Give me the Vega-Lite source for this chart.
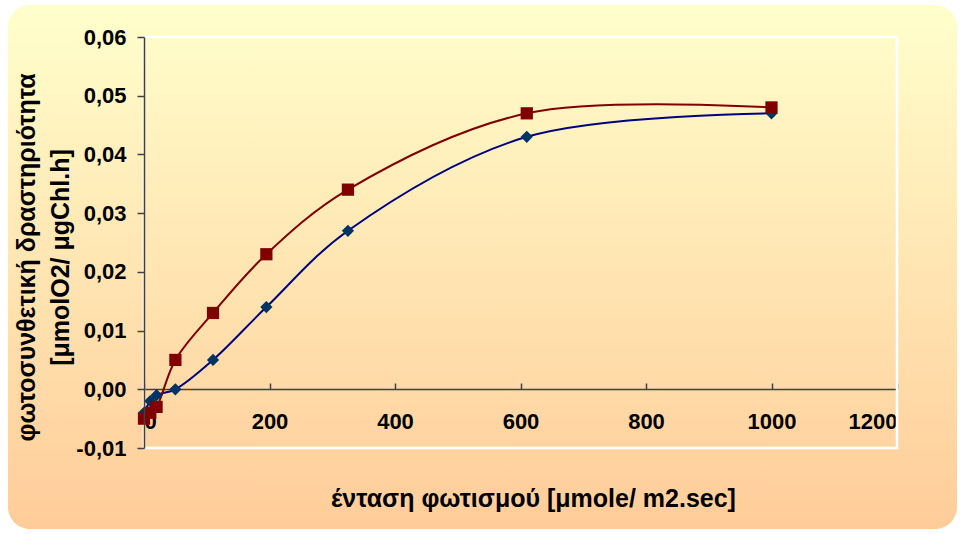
{
  "$schema": "https://vega.github.io/schema/vega-lite/v6.json",
  "width": 949,
  "height": 524,
  "autosize": "none",
  "padding": {"left": 8, "top": 5, "right": 3, "bottom": 5},
  "background": "#ffffff",
  "view": {
    "stroke": null,
    "cornerRadius": 22,
    "fill": {
      "gradient": "linear",
      "x1": 0, "y1": 0, "x2": 0, "y2": 1,
      "stops": [
        {"offset": 0, "color": "#FFFFCC"},
        {"offset": 1, "color": "#FFCC99"}
      ]
    }
  },
  "config": {
    "font": "Liberation Sans",
    "axis": {
      "labelFont": "Liberation Sans",
      "labelFontSize": 22,
      "labelFontWeight": "bold",
      "labelColor": "#000000",
      "titleFont": "Liberation Sans",
      "titleFontWeight": "bold",
      "titleColor": "#000000",
      "domainColor": "#404040",
      "tickColor": "#404040",
      "domainWidth": 1.5,
      "tickWidth": 1.5,
      "grid": false
    }
  },
  "datasets": {
    "photosynthesis": [
      {"series": "Σειρά1", "light": 0, "rate": -0.004},
      {"series": "Σειρά1", "light": 10, "rate": -0.002},
      {"series": "Σειρά1", "light": 20, "rate": -0.001},
      {"series": "Σειρά1", "light": 50, "rate": 0.0},
      {"series": "Σειρά1", "light": 110, "rate": 0.005},
      {"series": "Σειρά1", "light": 195, "rate": 0.014},
      {"series": "Σειρά1", "light": 325, "rate": 0.027},
      {"series": "Σειρά1", "light": 610, "rate": 0.043},
      {"series": "Σειρά1", "light": 1000, "rate": 0.047},
      {"series": "Σειρά2", "light": 0, "rate": -0.005},
      {"series": "Σειρά2", "light": 10, "rate": -0.004},
      {"series": "Σειρά2", "light": 20, "rate": -0.003},
      {"series": "Σειρά2", "light": 50, "rate": 0.005},
      {"series": "Σειρά2", "light": 110, "rate": 0.013},
      {"series": "Σειρά2", "light": 195, "rate": 0.023},
      {"series": "Σειρά2", "light": 325, "rate": 0.034},
      {"series": "Σειρά2", "light": 610, "rate": 0.047},
      {"series": "Σειρά2", "light": 1000, "rate": 0.048}
    ]
  },
  "layer": [
    {
      "data": {"values": [{}]},
      "mark": {"type": "rect", "fill": null, "stroke": "#ffffff", "strokeWidth": 2.5},
      "encoding": {
        "x": {"datum": 0, "type": "quantitative"},
        "x2": {"datum": 1200},
        "y": {"datum": -0.01, "type": "quantitative"},
        "y2": {"datum": 0.06}
      }
    },
    {
      "data": {"name": "photosynthesis"},
      "mark": {"type": "line", "interpolate": "catmull-rom", "strokeWidth": 2},
      "encoding": {
        "x": {
          "field": "light", "type": "quantitative",
          "scale": {"domain": [0, 1200], "range": [136, 889], "nice": false, "zero": false},
          "axis": {
            "orient": "bottom",
            "offset": -140,
            "values": [0, 200, 400, 600, 800, 1000, 1200],
            "format": "d",
            "tickSize": -6,
            "labelPadding": 28,
            "zindex": 0,
            "title": "ένταση φωτισμού [μmole/ m2.sec]",
            "titleFontSize": 25,
            "titleX": 525,
            "titleY": 117,
            "titleAlign": "center",
            "titleBaseline": "alphabetic"
          }
        },
        "y": {
          "field": "rate", "type": "quantitative",
          "scale": {"domain": [-0.01, 0.06], "range": [443, 32], "nice": false, "zero": false},
          "axis": {
            "orient": "left",
            "offset": -136,
            "values": [-0.01, 0, 0.01, 0.02, 0.03, 0.04, 0.05, 0.06],
            "labelExpr": "(datum.value < -0.000001 ? '-' : '') + replace(format(abs(datum.value), '.2f'), '.', ',')",
            "tickSize": 7,
            "labelPadding": 11,
            "zindex": 1,
            "title": ["φωτοσυνθετική δραστηριότητα", "[μmolO2/ μgChl.h]"],
            "titleFontSize": 25,
            "titleLineHeight": 34,
            "titleX": -118,
            "titleY": 252,
            "titleAlign": "center",
            "titleBaseline": "middle",
            "titleAngle": 270
          }
        },
        "color": {
          "field": "series", "type": "nominal",
          "scale": {"domain": ["Σειρά1", "Σειρά2"], "range": ["#000080", "#800000"]},
          "legend": null
        },
        "order": {"field": "light", "type": "quantitative"}
      }
    },
    {
      "data": {"name": "photosynthesis"},
      "mark": {"type": "point", "filled": true, "opacity": 1, "size": 150},
      "encoding": {
        "x": {"field": "light", "type": "quantitative"},
        "y": {"field": "rate", "type": "quantitative"},
        "shape": {
          "field": "series", "type": "nominal",
          "scale": {"domain": ["Σειρά1", "Σειρά2"], "range": ["diamond", "square"]},
          "legend": null
        },
        "fill": {
          "field": "series", "type": "nominal",
          "scale": {"domain": ["Σειρά1", "Σειρά2"], "range": ["#003366", "#800000"]},
          "legend": null
        }
      }
    }
  ]
}
